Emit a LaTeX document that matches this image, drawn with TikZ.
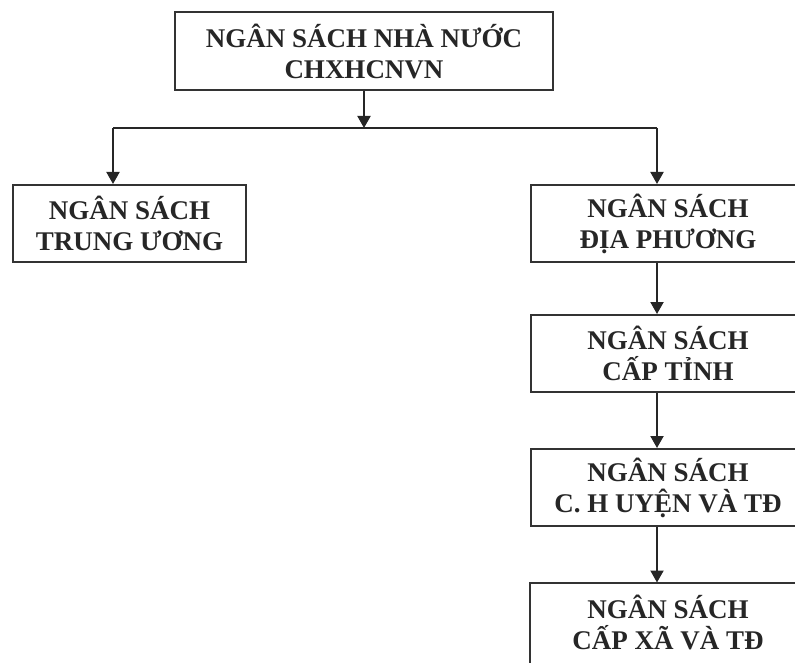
\documentclass[tikz,border=0pt]{standalone}
\usepackage{fontspec}
\setmainfont{Liberation Serif}
\usetikzlibrary{arrows.meta}
\begin{document}
\begin{tikzpicture}[x=1pt,y=-1pt,
  frame/.style={draw=black!80, line width=2pt},
  box/.style={frame, rectangle, align=center,
    font=\bfseries\fontsize{27}{31}\selectfont, text=black!85, inner sep=0pt},
  link/.style={draw=black!85, line width=2pt},
  arr/.style={link, -{Triangle[width=13pt,length=12pt]}}]
  \useasboundingbox (0,0) rectangle (795,663);
  \clip (0,0) rectangle (795,663);

  % boxes
  \node[box, minimum width=378pt, minimum height=78pt] (top) at (364,51)
    {NGÂN SÁCH NHÀ NƯỚC\\CHXHCNVN};
  \node[box, minimum width=233pt, minimum height=77pt] (tw) at (129.5,223.5)
    {NGÂN SÁCH\\TRUNG ƯƠNG};
  \node[box, minimum width=274pt, minimum height=77pt] (dp) at (668,223.5)
    {NGÂN SÁCH\\ĐỊA PHƯƠNG};
  \node[box, minimum width=274pt, minimum height=77pt] (tinh) at (668,353.5)
    {NGÂN SÁCH\\CẤP TỈNH};
  \node[box, minimum width=274pt, minimum height=77pt] (huyen) at (668,487.5)
    {NGÂN SÁCH\\C. H UYỆN VÀ TĐ};
  % the last box runs past the lower edge of the page
  \node[box, draw=none, minimum width=274pt, minimum height=77pt] (xa) at (668,622)
    {NGÂN SÁCH\\CẤP XÃ VÀ TĐ};
  \draw[frame] (xa.north west) rectangle ([yshift=-40pt]xa.south east);

  % junction points
  \coordinate (j0) at (364,128);
  \coordinate (jl) at (113,128);
  \coordinate (jr) at (657,128);

  % connectors
  \draw[arr] (top.south) -- (j0);
  \draw[link] (jl) -- (jr);
  \draw[arr] (jl) -- (jl |- tw.north);
  \draw[arr] (jr) -- (jr |- dp.north);
  \draw[arr] (jr |- dp.south) -- (jr |- tinh.north);
  \draw[arr] (jr |- tinh.south) -- (jr |- huyen.north);
  \draw[arr] (jr |- huyen.south) -- (jr |- xa.north);
\end{tikzpicture}
\end{document}
